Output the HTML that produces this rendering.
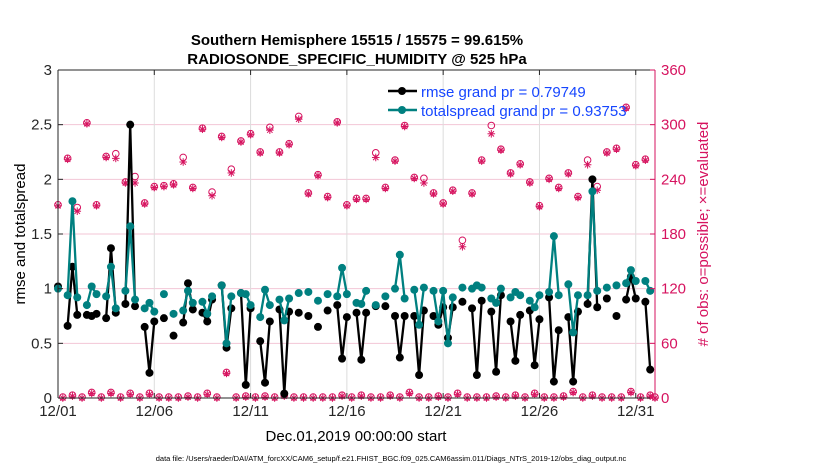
<!DOCTYPE html>
<html><head><meta charset="utf-8"><style>
html,body{margin:0;padding:0;background:#fff;}
svg{display:block;font-family:"Liberation Sans",Arial,sans-serif;}
</style></head><body>
<svg id="chart" width="830" height="470" viewBox="0 0 830 470">
<text x="357" y="45" text-anchor="middle" font-size="15" font-weight="bold">Southern Hemisphere 15515 / 15575 = 99.615%</text>
<text x="357" y="64" text-anchor="middle" font-size="15" font-weight="bold">RADIOSONDE_SPECIFIC_HUMIDITY @ 525 hPa</text>
<g id="grid"></g>
<g id="marks"></g>
<g id="axes"></g>
<text x="356" y="441" text-anchor="middle" font-size="15">Dec.01,2019 00:00:00 start</text>
<text transform="translate(25,234) rotate(-90)" text-anchor="middle" font-size="15">rmse and totalspread</text>
<text transform="translate(708,234) rotate(-90)" text-anchor="middle" font-size="15" fill="#d6135f"># of obs: o=possible; ×=evaluated</text>
<text x="391" y="461" text-anchor="middle" font-size="7.5">data file: /Users/raeder/DAI/ATM_forcXX/CAM6_setup/f.e21.FHIST_BGC.f09_025.CAM6assim.011/Diags_NTrS_2019-12/obs_diag_output.nc</text>
<g id="legend">
<line x1="388" y1="91" x2="417" y2="91" stroke="#000" stroke-width="2.5"/>
<circle cx="402" cy="91" r="4" fill="#000"/>
<text x="421" y="97" font-size="15" fill="#1646ff">rmse grand pr = 0.79749</text>
<line x1="388" y1="110" x2="417" y2="110" stroke="#008080" stroke-width="2.5"/>
<circle cx="402" cy="110" r="4" fill="#008080"/>
<text x="421" y="116" font-size="15" fill="#1646ff">totalspread grand pr = 0.93753</text>
</g>
</svg>
<script>
const dateTicks = [0, 5, 10, 15, 20, 25, 30];
const dateLabels = ["12/01","12/06","12/11","12/16","12/21","12/26","12/31"];
const leftTicks = [0, 0.5, 1, 1.5, 2, 2.5, 3];
const leftLabels = ["0","0.5","1","1.5","2","2.5","3"];
const rightTicks = [0, 60, 120, 180, 240, 300, 360];
const rmse = [1.02,null,0.66,1.2,0.76,null,0.76,0.75,0.77,null,
0.73,1.37,0.78,null,0.86,2.5,0.84,null,0.65,0.23,
0.70,null,0.73,null,0.57,null,0.69,1.05,0.81,null,
0.78,0.70,0.90,null,1.03,0.46,0.82,null,0.96,0.12,
0.82,null,0.52,0.14,0.70,null,0.81,0.04,0.79,null,
0.78,null,0.75,null,0.65,null,0.80,null,0.85,0.36,
0.74,null,0.78,0.35,0.78,null,0.84,null,0.84,null,
0.75,0.37,0.75,null,0.75,0.21,0.80,null,0.75,0.67,
0.83,0.55,0.83,null,0.88,null,0.82,0.21,0.89,null,
0.79,0.24,0.94,null,0.70,0.34,0.76,null,0.80,0.30,
0.72,null,0.92,0.15,0.62,null,0.74,0.15,0.79,null,
0.86,2.0,0.83,null,0.91,null,0.75,null,0.90,1.11,
0.91,null,0.88,0.26,null];
const spread = [1.0,null,0.94,1.8,0.92,null,0.85,1.02,0.95,null,
0.93,1.2,0.82,null,0.98,1.57,0.90,null,0.82,0.87,
0.79,null,0.95,null,0.77,null,0.80,0.98,0.87,null,
0.88,0.77,0.93,null,1.03,0.50,0.93,null,0.96,0.95,
0.85,null,0.74,0.99,0.85,null,0.90,0.71,0.91,null,
0.96,null,0.97,null,0.89,null,0.95,null,0.93,1.19,
0.95,null,0.87,0.86,0.98,null,0.85,null,0.93,null,
1.0,1.31,0.91,null,0.99,0.67,1.01,null,0.98,0.70,
0.98,0.50,0.92,null,1.01,null,1.0,1.03,1.01,null,
0.91,0.87,1.0,null,0.92,0.97,0.94,null,0.89,0.83,
0.94,null,0.97,1.48,0.94,null,1.04,0.60,0.94,null,
0.94,1.89,0.98,null,1.01,null,1.03,null,1.05,1.17,
1.07,null,1.07,0.98,null];
const possible = [211,0,262,2,208,0,301,5,211,0,
264,5,267,0,236,4,242,0,213,4,
231,0,232,0,234,0,263,1,230,0,
295,4,225,0,286,27,250,0,281,1,
289,0,269,1,296,0,269,2,278,0,
308,0,224,0,244,0,220,0,302,2,
211,0,218,2,218,0,268,0,230,2,
260,0,298,5,241,0,240,0,224,1,
213,0,227,4,172,0,224,0,260,0,
298,1,272,0,246,2,256,0,236,4,
210,0,240,0,230,1,246,6,220,0,
260,2,231,0,269,0,273,0,318,6,
255,0,261,2,0];
const evaluated = [211,0,262,2,205,0,301,5,211,0,
264,5,263,0,236,4,236,0,213,4,
231,0,232,0,234,0,259,1,230,0,
295,4,222,0,286,27,247,0,281,1,
289,0,269,1,294,0,269,2,278,0,
306,0,224,0,244,0,220,0,302,2,
211,0,218,2,218,0,264,0,230,2,
260,0,298,5,241,0,236,0,224,1,
213,0,227,4,166,0,224,0,260,0,
290,1,272,0,246,2,256,0,236,4,
210,0,240,0,230,1,246,6,220,0,
256,2,228,0,269,0,273,0,318,6,
255,0,261,2,0];

const X0=58, X1=655, Y0=398, Y1=70, NDAYS=31, STEPS=4;
const xDay = d => X0 + d/NDAYS*(X1-X0);
const xIdx = i => xDay(i/STEPS);
const yL = v => Y0 - v/3*(Y0-Y1);
const yR = v => Y0 - v/360*(Y0-Y1);
const NS="http://www.w3.org/2000/svg";
function mk(tag, attrs, parent){const e=document.createElementNS(NS,tag);for(const k in attrs)e.setAttribute(k,attrs[k]);parent.appendChild(e);return e;}
const grid=document.getElementById('grid'), marks=document.getElementById('marks'), axes=document.getElementById('axes');

rightTicks.forEach(t=>{
  const l=mk('line',{x1:X0,x2:X1,y1:yR(t),y2:yR(t),stroke:'#f3c6d6','stroke-width':1},grid);
  
  
});
dateTicks.forEach(d=>{
  const l=mk('line',{x1:xDay(d),x2:xDay(d),y1:Y0,y2:Y1,stroke:'#dcdcdc','stroke-width':1},grid);
  
  
});

function star(cx,cy,r,col,parent){
  const g=mk('g',{stroke:col,'stroke-width':1},parent);
  for(let a=0;a<4;a++){const t=a*Math.PI/4;mk('line',{x1:cx-r*Math.cos(t),y1:cy-r*Math.sin(t),x2:cx+r*Math.cos(t),y2:cy+r*Math.sin(t)},g);}
  return g;
}
const MAG='#d6135f';
possible.forEach((v,i)=>{
  const c=mk('circle',{cx:xIdx(i),cy:yR(v)-1,r:3.3,fill:'none',stroke:MAG,'stroke-width':1},marks);
  
  
});
evaluated.forEach((v,i)=>{
  const g=star(xIdx(i),yR(v),3.8,MAG,marks);
  
  
});

function series(arr,col,name){
  let d='';let pen=false;
  arr.forEach((v,i)=>{ if(v===null){pen=false;return;} d+=(pen?'L':'M')+xIdx(i).toFixed(1)+' '+yL(v).toFixed(1)+' '; pen=true; });
  const p=mk('path',{d:d,fill:'none',stroke:col,'stroke-width':2.3,'stroke-linejoin':'round'},marks);
  
  
  arr.forEach((v,i)=>{ if(v===null)return;
    const c=mk('circle',{cx:xIdx(i),cy:yL(v),r:4,fill:col},marks);
    
    
  });
}
series(rmse,'#000','rmse');
series(spread,'#008080','totalspread');

mk('line',{x1:X0,x2:X0,y1:Y0,y2:Y1,stroke:'#262626','stroke-width':1},axes);
mk('line',{x1:X0,x2:X1,y1:Y0,y2:Y0,stroke:'#262626','stroke-width':1},axes);
mk('line',{x1:X0,x2:X1,y1:Y1,y2:Y1,stroke:'#262626','stroke-width':1},axes);
mk('line',{x1:X1,x2:X1,y1:Y0,y2:Y1,stroke:MAG,'stroke-width':1},axes);
leftTicks.forEach((t,i)=>{
  mk('line',{x1:X0,x2:X0+5,y1:yL(t),y2:yL(t),stroke:'#262626'},axes);
  const tx=mk('text',{x:X0-6,y:yL(t)+5,'text-anchor':'end','font-size':15,fill:'#262626'},axes);
  tx.textContent=leftLabels[i];
  
  
});
rightTicks.forEach(t=>{
  mk('line',{x1:X1-5,x2:X1,y1:yR(t),y2:yR(t),stroke:MAG},axes);
  const tx=mk('text',{x:X1+6,y:yR(t)+5,'font-size':15,fill:MAG},axes);
  tx.textContent=String(t);
  
  
});
dateTicks.forEach((d,i)=>{
  mk('line',{x1:xDay(d),x2:xDay(d),y1:Y0,y2:Y0-5,stroke:'#262626'},axes);
  mk('line',{x1:xDay(d),x2:xDay(d),y1:Y1,y2:Y1+5,stroke:'#262626'},axes);
  const tx=mk('text',{x:xDay(d),y:Y0+18,'text-anchor':'middle','font-size':15,fill:'#262626'},axes);
  tx.textContent=dateLabels[i];
  
  
});
</script>
</body></html>
